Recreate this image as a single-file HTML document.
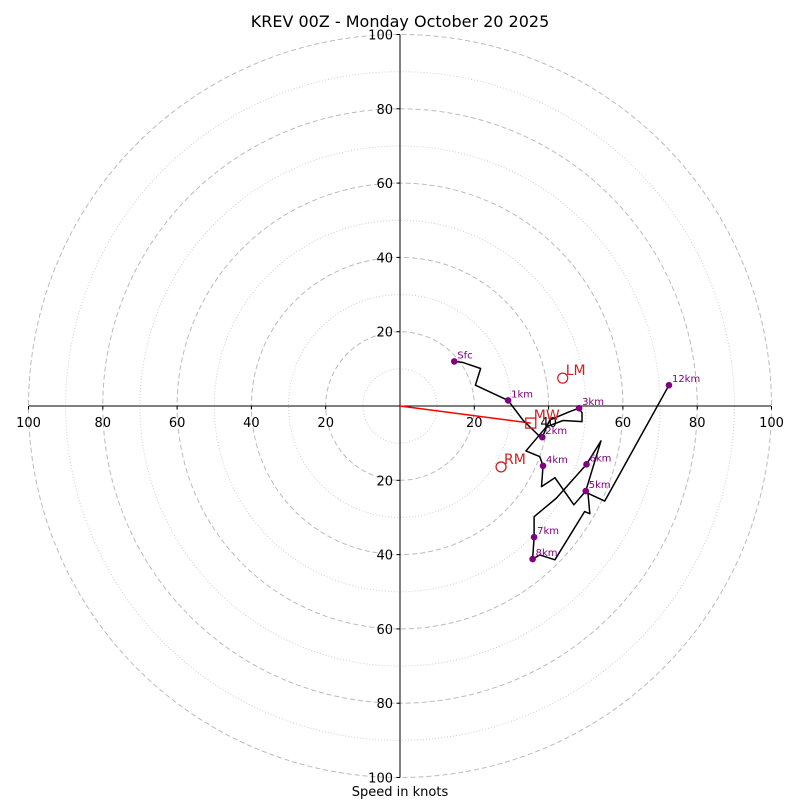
<!DOCTYPE html>
<html><head><meta charset="utf-8">
<style>
html,body{margin:0;padding:0;background:#fff;}
svg{display:block;font-family:"DejaVu Sans","Liberation Sans",sans-serif;}
</style></head>
<body>
<svg id="chart" width="800" height="800" viewBox="0 0 800 800">
<text x="400" y="27" text-anchor="middle" font-size="16" fill="#000">KREV 00Z - Monday October 20 2025</text>
<text x="400" y="796" text-anchor="middle" font-size="13" fill="#000">Speed in knots</text>
<g id="grid"></g>
<g id="axes"></g>
<g id="trace"></g>
<g id="markers"></g>
</svg>
<script>
const ringsMajor = [20, 40, 60, 80, 100];
const ringsMinor = [10, 30, 50, 70, 90];
const tickLabels = [20, 40, 60, 80, 100];
const traceU = [14.6,17.0,21.7,20.3,29.1,33.1,37.6,38.3,40.3,45.7,48.2,49.0,49.0,43.9,39.4,33.9,37.6,38.5,38.1,41.7,46.8,50.0,54.1,50.2,42.1,36.1,36.1,35.7,37.6,41.7,49.7,51.1,50.6,55.1,72.4];
const traceV = [12.0,11.7,10.1,5.6,1.5,-3.8,-8.2,-8.4,-3.8,-1.5,-0.6,-1.8,-4.2,-3.9,-5.6,-12.1,-13.6,-16.1,-21.7,-19.3,-26.6,-22.9,-9.4,-15.7,-24.8,-29.8,-35.3,-41.2,-40.1,-41.4,-28.4,-29.0,-23.5,-25.6,5.6];
const markerLabels = ["Sfc","1km","2km","3km","4km","5km","6km","7km","8km","12km"];
const markerU = [14.6,29.1,38.3,48.2,38.5,50.0,50.2,36.1,35.7,72.4];
const markerV = [12.0,1.5,-8.4,-0.6,-16.1,-22.9,-15.7,-35.3,-41.2,5.6];
const motionLabels = ["LM","RM"];
const motionU = [43.8,27.2];
const motionV = [7.5,-16.4];
const meanWind = [35.2,-4.6];

const CX=400, CY=406, S=3.715;
const sx = u => CX + u*S;
const sy = v => CY - v*S;
const NS="http://www.w3.org/2000/svg";
function mk(tag, parent){const e=document.createElementNS(NS,tag);document.getElementById(parent).appendChild(e);return e;}

ringsMinor.forEach(r=>{
  const c=mk('circle','grid');
  
  
  c.setAttribute('cx',CX);c.setAttribute('cy',CY);c.setAttribute('r',r*S);
  c.setAttribute('fill','none');c.setAttribute('stroke','#cfcfcf');c.setAttribute('stroke-dasharray','1,2');c.setAttribute('stroke-width','1');
});
ringsMajor.forEach(r=>{
  const c=mk('circle','grid');
  
  
  c.setAttribute('cx',CX);c.setAttribute('cy',CY);c.setAttribute('r',r*S);
  c.setAttribute('fill','none');c.setAttribute('stroke','#bbbbbb');c.setAttribute('stroke-dasharray','5,3');c.setAttribute('stroke-width','1');
});
const R=100*S;
const hx=mk('line','axes');


hx.setAttribute('x1',CX-R);hx.setAttribute('x2',CX+R);hx.setAttribute('y1',CY);hx.setAttribute('y2',CY);hx.setAttribute('stroke','#000');
const vy=mk('line','axes');


vy.setAttribute('x1',CX);vy.setAttribute('x2',CX);vy.setAttribute('y1',CY-R);vy.setAttribute('y2',CY+R);vy.setAttribute('stroke','#000');
tickLabels.forEach(t=>{
  [-1,1].forEach(sg=>{
    const x=sx(sg*t);
    const tk=mk('line','axes');
    
    
    tk.setAttribute('x1',x);tk.setAttribute('x2',x);tk.setAttribute('y1',CY);tk.setAttribute('y2',CY+3.5);tk.setAttribute('stroke','#000');
    const tx=mk('text','axes');
    
    
    tx.setAttribute('x',x);tx.setAttribute('y',CY+21);tx.setAttribute('text-anchor','middle');tx.setAttribute('font-size','13');
    tx.textContent=t;
    const y=sy(sg*t);
    const tk2=mk('line','axes');
    
    
    tk2.setAttribute('x1',CX-3.5);tk2.setAttribute('x2',CX);tk2.setAttribute('y1',y);tk2.setAttribute('y2',y);tk2.setAttribute('stroke','#000');
    const ty=mk('text','axes');
    
    
    ty.setAttribute('x',CX-7);ty.setAttribute('y',y+5);ty.setAttribute('text-anchor','end');ty.setAttribute('font-size','13');
    ty.textContent=t;
  });
});
// mean wind arrow
const mw=mk('line','trace');


mw.setAttribute('x1',sx(0));mw.setAttribute('y1',sy(0));mw.setAttribute('x2',sx(meanWind[0]));mw.setAttribute('y2',sy(meanWind[1]));
mw.setAttribute('stroke','#ff0000');mw.setAttribute('stroke-width','1.5');
// trace
const pl=mk('polyline','trace');


pl.setAttribute('points',traceU.map((u,i)=>sx(u)+','+sy(traceV[i])).join(' '));
pl.setAttribute('fill','none');pl.setAttribute('stroke','#000');pl.setAttribute('stroke-width','1.5');pl.setAttribute('stroke-linejoin','round');
// markers
markerLabels.forEach((lab,i)=>{
  const c=mk('circle','markers');
  
  
  c.setAttribute('cx',sx(markerU[i]));c.setAttribute('cy',sy(markerV[i]));c.setAttribute('r','3.3');c.setAttribute('fill','#800080');
  const t=mk('text','markers');
  
  
  t.setAttribute('x',sx(markerU[i])+3);t.setAttribute('y',sy(markerV[i])-3);t.setAttribute('font-size','10');t.setAttribute('fill','#800080');
  t.textContent=lab;
});
motionLabels.forEach((lab,i)=>{
  const c=mk('circle','markers');
  
  
  c.setAttribute('cx',sx(motionU[i]));c.setAttribute('cy',sy(motionV[i]));c.setAttribute('r','5');c.setAttribute('fill','none');c.setAttribute('stroke','#cc2222');c.setAttribute('stroke-width','1.3');
  const t=mk('text','markers');
  
  
  t.setAttribute('x',sx(motionU[i])+3);t.setAttribute('y',sy(motionV[i])-3);t.setAttribute('font-size','14');t.setAttribute('fill','#cc2222');
  t.textContent=lab;
});
const sq=mk('rect','markers');


sq.setAttribute('x',sx(meanWind[0])-5);sq.setAttribute('y',sy(meanWind[1])-5);sq.setAttribute('width','10');sq.setAttribute('height','10');
sq.setAttribute('fill','none');sq.setAttribute('stroke','#cc2222');sq.setAttribute('stroke-width','1.3');
const mt=mk('text','markers');


mt.setAttribute('x',sx(meanWind[0])+3);mt.setAttribute('y',sy(meanWind[1])-3);mt.setAttribute('font-size','14');mt.setAttribute('fill','#cc2222');
mt.textContent='MW';
</script>
</body></html>
